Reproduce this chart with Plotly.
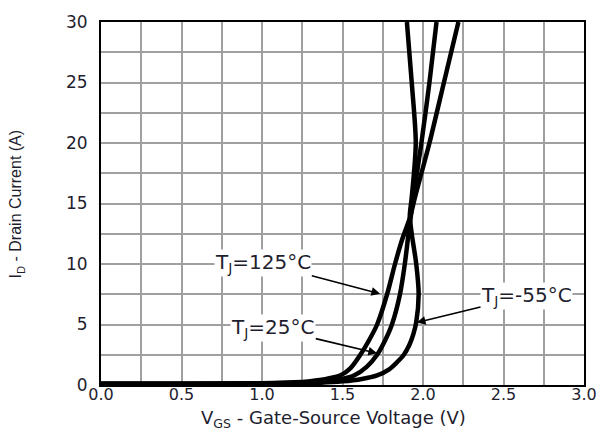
import plotly.graph_objects as go

# Transfer characteristics: drain current vs gate-source voltage at three junction temperatures
v_125 = [0.0, 0.5, 1.0, 1.2, 1.3, 1.4, 1.488, 1.55, 1.611, 1.665, 1.715, 1.777, 1.826, 1.87, 1.918, 1.95, 2.04, 2.13, 2.22]
i_125 = [0.1, 0.1, 0.15, 0.22, 0.32, 0.5, 0.8, 1.4, 2.5, 3.7, 5.0, 7.5, 10.0, 12.0, 13.8, 15.5, 20.0, 25.0, 30.0]

v_25 = [0.0, 0.5, 1.0, 1.25, 1.4, 1.5, 1.574, 1.65, 1.715, 1.765, 1.807, 1.857, 1.887, 1.91, 1.925, 1.94, 1.99, 2.04, 2.084]
i_25 = [0.1, 0.1, 0.12, 0.2, 0.32, 0.5, 0.8, 1.5, 2.5, 3.7, 5.0, 7.5, 10.0, 12.5, 14.0, 15.5, 20.0, 25.0, 30.0]

v_m55 = [0.0, 0.5, 1.0, 1.3, 1.5, 1.62, 1.715, 1.79, 1.84, 1.881, 1.915, 1.94, 1.958, 1.973, 1.958, 1.93, 1.918, 1.93, 1.955, 1.93, 1.90]
i_m55 = [0.1, 0.1, 0.1, 0.15, 0.3, 0.5, 0.8, 1.3, 1.9, 2.5, 3.3, 4.2, 5.2, 7.5, 10.0, 12.5, 14.0, 15.5, 20.0, 25.0, 30.0]

x_ticks = [0.0, 0.5, 1.0, 1.5, 2.0, 2.5, 3.0]
y_ticks = [0, 5, 10, 15, 20, 25, 30]

x_title = "V<sub>GS</sub> - Gate-Source Voltage (V)"
y_title = "I<sub>D</sub> - Drain Current (A)"

# Curve labels: (text, arrow tip V, arrow tip I, text V, text I)
labels = [
    ("T<sub>J</sub>=125°C", 1.734, 7.54, 1.008, 10.08),
    ("T<sub>J</sub>=25°C", 1.715, 2.62, 1.07, 4.67),
    ("T<sub>J</sub>=-55°C", 1.961, 5.16, 2.643, 7.38),
]

text_color = "#1e1e2e"
font_main = "DejaVu Sans, Verdana, sans-serif"

fig = go.Figure()
for v, i in [(v_125, i_125), (v_25, i_25), (v_m55, i_m55)]:
    fig.add_trace(go.Scatter(
        x=v, y=i, mode="lines",
        line=dict(color="black", width=4.5, shape="spline", smoothing=0.8),
        showlegend=False, hoverinfo="skip",
    ))

for text, tx, ty, lx, ly in labels:
    fig.add_annotation(
        x=tx, y=ty, xref="x", yref="y",
        ax=lx, ay=ly, axref="x", ayref="y",
        text=text, showarrow=True,
        arrowhead=2, arrowsize=1.1, arrowwidth=1.6, arrowcolor="black",
        font=dict(family=font_main, size=20, color=text_color),
        bgcolor="white", borderpad=0,
    )

# Axis titles placed as free text
fig.add_annotation(
    text=x_title, xref="paper", yref="paper", x=0.482, y=-0.093,
    xanchor="center", yanchor="middle", showarrow=False,
    font=dict(family=font_main, size=18, color=text_color),
)
fig.add_annotation(
    text=y_title, xref="paper", yref="paper", x=-0.174, y=0.5,
    xanchor="center", yanchor="middle", showarrow=False, textangle=-90,
    font=dict(family="Liberation Sans, Arial, sans-serif", size=16, color=text_color),
)

axis_common = dict(
    showline=True, linecolor="black", linewidth=2, mirror=True,
    showgrid=True, gridcolor="#a0a0a0", gridwidth=1.5,
    ticks="", zeroline=False,
)

fig.update_xaxes(
    range=[0, 3], tickvals=x_ticks, ticktext=[f"{t:.1f}" for t in x_ticks],
    minor=dict(dtick=0.25, showgrid=True, gridcolor="#a0a0a0", gridwidth=1.5),
    tickfont=dict(family=font_main, size=16, color=text_color),
    ticklabelstandoff=-6,
    **axis_common,
)
fig.update_yaxes(
    range=[0, 30], tickvals=y_ticks,
    minor=dict(dtick=2.5, showgrid=True, gridcolor="#a0a0a0", gridwidth=1.5),
    tickfont=dict(family=font_main, size=17, color=text_color),
    ticklabelstandoff=8,
    **axis_common,
)

fig.update_layout(
    width=609, height=434,
    margin=dict(l=101, r=20, t=19, b=49),
    paper_bgcolor="white", plot_bgcolor="white",
)

fig.write_html("out.html")
